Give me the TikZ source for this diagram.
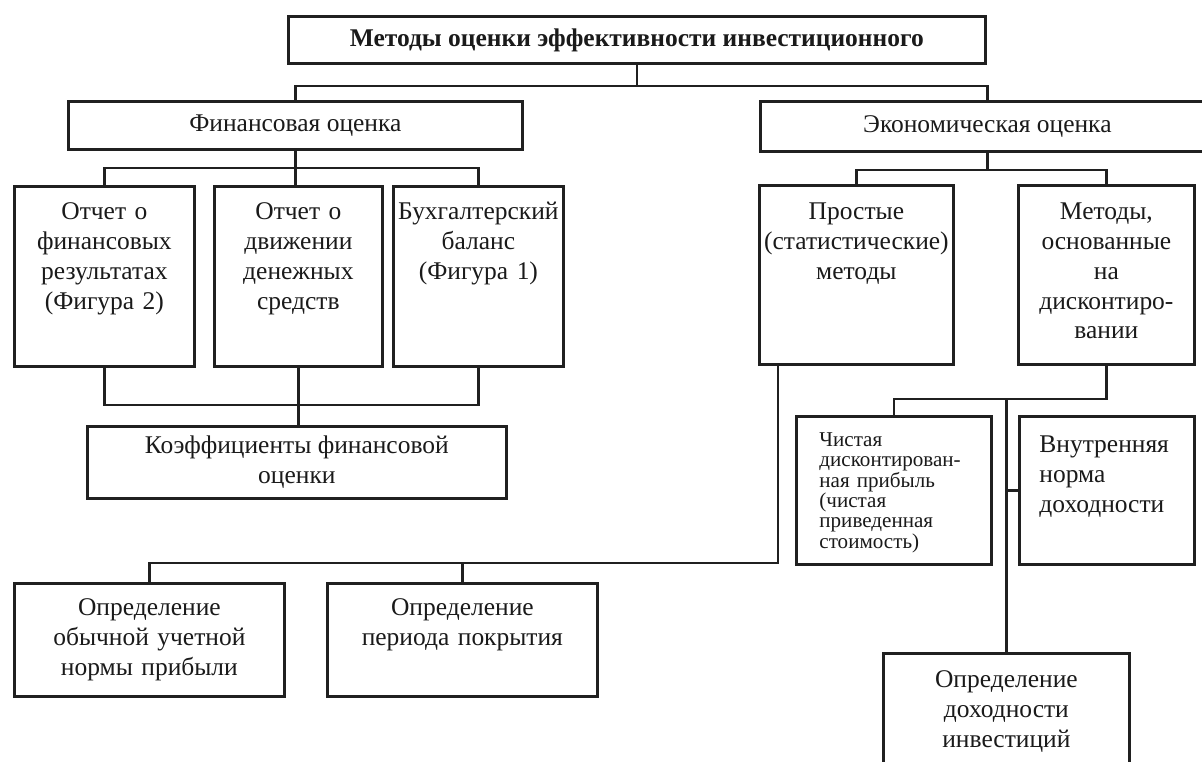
\documentclass[tikz,border=0pt]{standalone}
\usepackage{fontspec}
\setmainfont{Liberation Serif}
\usepackage{xcolor}
\usepackage{tikz}
\usetikzlibrary{calc}
\definecolor{cInk}{HTML}{1A1A1A}
\definecolor{cLine}{HTML}{202020}
\tikzset{
  blk/.style={draw=cLine,line width=1.6pt,anchor=north west,inner sep=0pt,align=center,font=\fontsize{14.5}{17}\selectfont,text=cInk},
  % tblk: fixed text height+depth = box height, text sits at the top
  tblk/.style={blk,text width=#1},
  wire/.style={draw=cLine,line width=1.3pt},
}

\begin{document}
\begin{tikzpicture}[x=0.02cm,y=-0.02cm]
    \fill[white] (0,0) rectangle (1202,761);
    \useasboundingbox (0,0) rectangle (1202,761);
    % top level
    \node[blk,minimum width=13.94cm,minimum height=0.94cm,font=\fontsize{14.5}{17}\selectfont\bfseries] (top) at (287,15) {Методы оценки эффективности инвестиционного};
    \node[blk,minimum width=9.08cm,minimum height=0.96cm] (fin) at (67,100) {Финансовая оценка};
    \node[blk,minimum width=9.08cm,minimum height=1.0cm] (eko) at (759,100) {Экономическая оценка};
    \draw[wire] (top.south) -- ++(0,21) coordinate (t1);
    \draw[wire] (fin.north) |- (t1) -| (eko.north);
    % financial branch
    \node[tblk=3.6cm,text height=0.66cm,text depth=2.94cm] (repA) at (13,185) {Отчет о\\финансовых\\результатах\\(Фигура 2)};
    \node[tblk=3.36cm,text height=0.66cm,text depth=2.94cm] (repB) at (213,185) {Отчет о\\движении\\денежных\\средств};
    \node[tblk=3.4cm,text height=0.66cm,text depth=2.94cm] (repC) at (392,185) {Бухгалтерский\\баланс\\(Фигура 1)};
    \draw[wire] (fin.south) -- ++(0,17) coordinate (f1);
    \draw[wire] (repA.north) |- (f1) -| (repC.north);
    \draw[wire] (f1) -- (f1 |- repB.north);
    \node[blk,minimum width=8.38cm,minimum height=1.44cm] (koef) at (86,425) {Коэффициенты финансовой\\оценки};
    \draw[wire] (repA.south) -- ++(0,37) -| (repC.south);
    \draw[wire] (repB.south) -- (repB.south |- koef.north);
    % economic branch
    \node[tblk=3.88cm,text height=0.68cm,text depth=2.9cm] (simple) at (758,184) {Простые\\(статистические)\\методы};
    \node[tblk=3.52cm,text height=0.68cm,text depth=2.9cm] (disc) at (1017,184) {Методы,\\основанные\\на\\дисконтиро-\\вании};
    \draw[wire] (eko.south) -- ++(0,17) coordinate (e1);
    \draw[wire] (simple.north) |- (e1) -| (disc.north);
    % simple methods
    \node[tblk=5.4cm,text height=0.64cm,text depth=1.62cm] (acc) at (13,582) {Определение\\обычной учетной\\нормы прибыли};
    \node[tblk=5.4cm,text height=0.64cm,text depth=1.62cm] (pay) at (326,582) {Определение\\периода покрытия};
    \draw[wire] ($(simple.south west)!0.1!(simple.south east)$) -- ++(0,197) coordinate (s1) -| (acc.north);
    \draw[wire] (pay.north) -- (pay.north |- s1);
    % discounting methods
    \node[tblk=2.98cm,inner xsep=0.46cm,align=left,font=\fontsize{12}{11.6}\selectfont,text height=0.6cm,text depth=2.36cm] (npv) at (795,415) {Чистая\\дисконтирован-\\ная прибыль\\(чистая\\приведенная\\стоимость)};
    \node[tblk=2.7cm,inner xsep=0.4cm,align=left,text height=0.72cm,text depth=2.24cm] (irr) at (1018,415) {Внутренняя\\норма\\доходности};
    \node[tblk=4.92cm,text height=0.68cm,text depth=2.0cm] (yield) at (882,652) {Определение\\доходности\\инвестиций};
    \draw[wire] (disc.south) -- ++(0,33) coordinate (d1) -| (npv.north);
    \draw[wire] (d1 -| yield.north) -- (yield.north);
    \draw[wire] (irr.west) -- (irr.west -| yield.north);
  \end{tikzpicture}
\end{document}
